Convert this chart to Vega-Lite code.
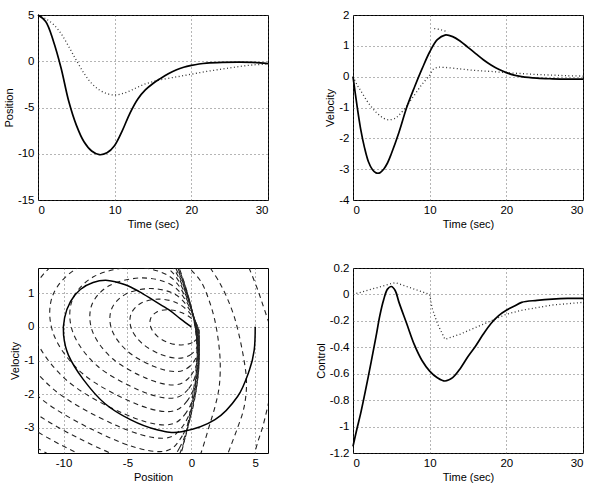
{
  "$schema": "https://vega.github.io/schema/vega-lite/v6.json",
  "padding": {"left": 2, "top": 8, "right": 0, "bottom": 0},
  "config": {
    "font": "Liberation Sans",
    "view": {"stroke": "#000", "strokeWidth": 1},
    "axis": {"labelFont": "Liberation Sans", "labelFontSize": 11.5, "labelColor": "#000", "titleFont": "Liberation Sans", "titleFontSize": 11, "titleFontWeight": "normal", "titleColor": "#000", "grid": true, "gridColor": "#444", "gridDash": [1, 3], "gridWidth": 0.8, "domain": false, "ticks": false, "labelPadding": 4, "titlePadding": 3},
    "locale": {"number": {"decimal": ".", "thousands": ",", "grouping": [3], "currency": ["$", ""], "minus": "-"}}
  },
  "datasets": {
    "pos": [
      {"t":0,"v":5,"s":"a"},{"t":1,"v":4.3,"s":"a"},{"t":2,"v":2.2,"s":"a"},{"t":3,"v":-0.7,"s":"a"},{"t":4,"v":-4.3,"s":"a"},{"t":5,"v":-6.9,"s":"a"},{"t":6,"v":-8.7,"s":"a"},{"t":7,"v":-9.7,"s":"a"},{"t":8,"v":-10.1,"s":"a"},{"t":9,"v":-9.9,"s":"a"},{"t":10,"v":-9.1,"s":"a"},{"t":11,"v":-7.5,"s":"a"},{"t":12,"v":-5.6,"s":"a"},{"t":13,"v":-4.1,"s":"a"},{"t":14,"v":-3.1,"s":"a"},{"t":15,"v":-2.4,"s":"a"},{"t":16,"v":-1.85,"s":"a"},{"t":17,"v":-1.35,"s":"a"},{"t":18,"v":-0.95,"s":"a"},{"t":19,"v":-0.65,"s":"a"},{"t":20,"v":-0.45,"s":"a"},{"t":21,"v":-0.3,"s":"a"},{"t":22,"v":-0.2,"s":"a"},{"t":24,"v":-0.12,"s":"a"},{"t":26,"v":-0.1,"s":"a"},{"t":28,"v":-0.12,"s":"a"},{"t":30,"v":-0.25,"s":"a"},
      {"t":0,"v":5,"s":"d"},{"t":1,"v":4.6,"s":"d"},{"t":2,"v":4.0,"s":"d"},{"t":3,"v":3.0,"s":"d"},{"t":4,"v":1.6,"s":"d"},{"t":5,"v":0.1,"s":"d"},{"t":6,"v":-1.3,"s":"d"},{"t":7,"v":-2.4,"s":"d"},{"t":8,"v":-3.1,"s":"d"},{"t":9,"v":-3.5,"s":"d"},{"t":10,"v":-3.65,"s":"d"},{"t":11,"v":-3.5,"s":"d"},{"t":12,"v":-3.2,"s":"d"},{"t":13,"v":-2.8,"s":"d"},{"t":14,"v":-2.45,"s":"d"},{"t":15,"v":-2.2,"s":"d"},{"t":16,"v":-2.0,"s":"d"},{"t":18,"v":-1.7,"s":"d"},{"t":20,"v":-1.4,"s":"d"},{"t":22,"v":-1.1,"s":"d"},{"t":24,"v":-0.85,"s":"d"},{"t":26,"v":-0.6,"s":"d"},{"t":28,"v":-0.4,"s":"d"},{"t":30,"v":-0.3,"s":"d"}
    ],
    "vel": [
      {"t":0,"v":0,"s":"a"},{"t":0.5,"v":-0.9,"s":"a"},{"t":1,"v":-1.7,"s":"a"},{"t":1.5,"v":-2.3,"s":"a"},{"t":2,"v":-2.75,"s":"a"},{"t":2.5,"v":-3.0,"s":"a"},{"t":3,"v":-3.12,"s":"a"},{"t":3.5,"v":-3.12,"s":"a"},{"t":4,"v":-3.0,"s":"a"},{"t":4.5,"v":-2.8,"s":"a"},{"t":5,"v":-2.5,"s":"a"},{"t":6,"v":-1.8,"s":"a"},{"t":7,"v":-1.0,"s":"a"},{"t":8,"v":-0.35,"s":"a"},{"t":9,"v":0.25,"s":"a"},{"t":10,"v":0.8,"s":"a"},{"t":11,"v":1.2,"s":"a"},{"t":12,"v":1.35,"s":"a"},{"t":13,"v":1.3,"s":"a"},{"t":14,"v":1.15,"s":"a"},{"t":15,"v":0.95,"s":"a"},{"t":16,"v":0.75,"s":"a"},{"t":17,"v":0.55,"s":"a"},{"t":18,"v":0.38,"s":"a"},{"t":19,"v":0.24,"s":"a"},{"t":20,"v":0.13,"s":"a"},{"t":21,"v":0.05,"s":"a"},{"t":22,"v":0.0,"s":"a"},{"t":24,"v":-0.05,"s":"a"},{"t":26,"v":-0.07,"s":"a"},{"t":28,"v":-0.08,"s":"a"},{"t":30,"v":-0.08,"s":"a"},
      {"t":0,"v":0,"s":"d"},{"t":0.5,"v":-0.25,"s":"d"},{"t":1,"v":-0.45,"s":"d"},{"t":2,"v":-0.85,"s":"d"},{"t":3,"v":-1.15,"s":"d"},{"t":4,"v":-1.35,"s":"d"},{"t":4.7,"v":-1.4,"s":"d"},{"t":5.5,"v":-1.35,"s":"d"},{"t":6,"v":-1.25,"s":"d"},{"t":7,"v":-0.95,"s":"d"},{"t":8,"v":-0.6,"s":"d"},{"t":9,"v":-0.25,"s":"d"},{"t":10,"v":0.05,"s":"d"},{"t":10.5,"v":0.25,"s":"d"},{"t":11,"v":0.3,"s":"d"},{"t":12,"v":0.3,"s":"d"},{"t":14,"v":0.25,"s":"d"},{"t":16,"v":0.2,"s":"d"},{"t":18,"v":0.17,"s":"d"},{"t":20,"v":0.13,"s":"d"},{"t":22,"v":0.1,"s":"d"},{"t":24,"v":0.07,"s":"d"},{"t":26,"v":0.05,"s":"d"},{"t":28,"v":0.03,"s":"d"},{"t":30,"v":0.02,"s":"d"},
      {"t":10.6,"v":1.56,"s":"d2"},{"t":11.5,"v":1.52,"s":"d2"},{"t":12.4,"v":1.45,"s":"d2"}
    ],
    "ctl": [
      {"t":0,"v":-1.15,"s":"a"},{"t":0.5,"v":-1.02,"s":"a"},{"t":1,"v":-0.9,"s":"a"},{"t":2,"v":-0.62,"s":"a"},{"t":3,"v":-0.32,"s":"a"},{"t":3.5,"v":-0.16,"s":"a"},{"t":4,"v":-0.04,"s":"a"},{"t":4.5,"v":0.04,"s":"a"},{"t":5,"v":0.06,"s":"a"},{"t":5.5,"v":0.03,"s":"a"},{"t":6,"v":-0.06,"s":"a"},{"t":7,"v":-0.22,"s":"a"},{"t":8,"v":-0.38,"s":"a"},{"t":9,"v":-0.5,"s":"a"},{"t":10,"v":-0.58,"s":"a"},{"t":11,"v":-0.63,"s":"a"},{"t":12,"v":-0.655,"s":"a"},{"t":13,"v":-0.63,"s":"a"},{"t":14,"v":-0.56,"s":"a"},{"t":15,"v":-0.47,"s":"a"},{"t":16,"v":-0.39,"s":"a"},{"t":17,"v":-0.3,"s":"a"},{"t":18,"v":-0.22,"s":"a"},{"t":19,"v":-0.16,"s":"a"},{"t":20,"v":-0.12,"s":"a"},{"t":21,"v":-0.09,"s":"a"},{"t":22,"v":-0.06,"s":"a"},{"t":24,"v":-0.045,"s":"a"},{"t":26,"v":-0.035,"s":"a"},{"t":28,"v":-0.03,"s":"a"},{"t":30,"v":-0.03,"s":"a"},
      {"t":0,"v":0,"s":"d"},{"t":5.5,"v":0.09,"s":"d"},{"t":10,"v":0,"s":"d"},{"t":10.3,"v":-0.1,"s":"d"},{"t":11,"v":-0.22,"s":"d"},{"t":12,"v":-0.34,"s":"d"},{"t":14,"v":-0.3,"s":"d"},{"t":16,"v":-0.25,"s":"d"},{"t":18,"v":-0.2,"s":"d"},{"t":20,"v":-0.15,"s":"d"},{"t":22,"v":-0.12,"s":"d"},{"t":24,"v":-0.1,"s":"d"},{"t":26,"v":-0.08,"s":"d"},{"t":28,"v":-0.07,"s":"d"},{"t":30,"v":-0.06,"s":"d"}
    ],
    "traj": [
      {"i":0,"x":5.0,"y":0},{"i":1,"x":4.92,"y":-0.69},{"i":2,"x":4.54,"y":-1.29},{"i":3,"x":3.62,"y":-2.07},{"i":4,"x":1.85,"y":-2.76},{"i":5,"x":-0.77,"y":-3.12},{"i":6,"x":-2.69,"y":-3.06},{"i":7,"x":-4.77,"y":-2.76},{"i":8,"x":-6.77,"y":-2.28},{"i":9,"x":-8.46,"y":-1.56},{"i":10,"x":-9.62,"y":-0.84},{"i":11,"x":-10.0,"y":-0.24},{"i":12,"x":-9.92,"y":0.27},{"i":13,"x":-9.46,"y":0.75},{"i":14,"x":-8.69,"y":1.11},{"i":15,"x":-7.69,"y":1.32},{"i":16,"x":-6.54,"y":1.38},{"i":17,"x":-5.23,"y":1.26},{"i":18,"x":-4.08,"y":1.05},{"i":19,"x":-2.92,"y":0.78},{"i":20,"x":-1.77,"y":0.51},{"i":21,"x":-0.85,"y":0.24},{"i":22,"x":0,"y":0}
    ],
    "arcs": [
      {"k":"R1","i":0,"x":4.52,"y":1.75},{"k":"R1","i":1,"x":5.15,"y":1.15},{"k":"R1","i":2,"x":5.61,"y":0.64},{"k":"R1","i":3,"x":6.08,"y":0.11},
      {"k":"R2","i":0,"x":1.48,"y":1.75},{"k":"R2","i":1,"x":2.19,"y":1.33},{"k":"R2","i":2,"x":2.81,"y":0.85},{"k":"R2","i":3,"x":3.35,"y":0.31},{"k":"R2","i":4,"x":3.74,"y":-0.25},{"k":"R2","i":5,"x":4.06,"y":-0.85},{"k":"R2","i":6,"x":4.29,"y":-1.45},{"k":"R2","i":7,"x":4.29,"y":-1.96},{"k":"R2","i":8,"x":4.06,"y":-2.5},{"k":"R2","i":9,"x":3.59,"y":-3.03},{"k":"R2","i":10,"x":3.12,"y":-3.51},{"k":"R2","i":11,"x":2.81,"y":-3.81},
      {"k":"R3","i":0,"x":0.0,"y":1.69},{"k":"R3","i":1,"x":0.78,"y":1.33},{"k":"R3","i":2,"x":1.33,"y":0.85},{"k":"R3","i":3,"x":1.8,"y":0.26},{"k":"R3","i":4,"x":2.11,"y":-0.4},{"k":"R3","i":5,"x":2.26,"y":-1.06},{"k":"R3","i":6,"x":2.19,"y":-1.75},{"k":"R3","i":7,"x":1.87,"y":-2.35},{"k":"R3","i":8,"x":1.41,"y":-2.94},{"k":"R3","i":9,"x":0.94,"y":-3.54},{"k":"R3","i":10,"x":0.7,"y":-3.81},
      {"k":"R0","i":0,"x":6.08,"y":-2.2},{"k":"R0","i":1,"x":5.61,"y":-2.94},{"k":"R0","i":2,"x":5.23,"y":-3.39},{"k":"R0","i":3,"x":4.91,"y":-3.81}
    ],
    "loops": [
      {"k":1,"i":0,"x":0.573,"y":-0.27},{"k":1,"i":1,"x":0.085,"y":-0.464},{"k":1,"i":2,"x":-0.79,"y":-0.537},{"k":1,"i":3,"x":-1.794,"y":-0.471},{"k":1,"i":4,"x":-2.652,"y":-0.282},{"k":1,"i":5,"x":-3.164,"y":-0.021},{"k":1,"i":6,"x":-3.192,"y":0.242},{"k":1,"i":7,"x":-2.73,"y":0.436},{"k":1,"i":8,"x":-1.901,"y":0.509},{"k":1,"i":9,"x":-0.903,"y":0.443},{"k":1,"i":10,"x":0.002,"y":0.254},{"k":1,"i":11,"x":0.542,"y":-0.007},
      {"k":2,"i":0,"x":0.567,"y":-0.483},{"k":2,"i":1,"x":0.007,"y":-0.809},{"k":2,"i":2,"x":-0.997,"y":-0.933},{"k":2,"i":3,"x":-2.38,"y":-0.821},{"k":2,"i":4,"x":-3.82,"y":-0.503},{"k":2,"i":5,"x":-4.68,"y":-0.066},{"k":2,"i":6,"x":-4.728,"y":0.375},{"k":2,"i":7,"x":-3.952,"y":0.701},{"k":2,"i":8,"x":-2.56,"y":0.825},{"k":2,"i":9,"x":-1.127,"y":0.713},{"k":2,"i":10,"x":-0.088,"y":0.395},{"k":2,"i":11,"x":0.533,"y":-0.042},
      {"k":3,"i":0,"x":0.561,"y":-0.698},{"k":3,"i":1,"x":-0.071,"y":-1.156},{"k":3,"i":2,"x":-1.205,"y":-1.33},{"k":3,"i":3,"x":-2.966,"y":-1.172},{"k":3,"i":4,"x":-4.99,"y":-0.726},{"k":3,"i":5,"x":-6.198,"y":-0.112},{"k":3,"i":6,"x":-6.265,"y":0.508},{"k":3,"i":7,"x":-5.175,"y":0.966},{"k":3,"i":8,"x":-3.219,"y":1.14},{"k":3,"i":9,"x":-1.351,"y":0.982},{"k":3,"i":10,"x":-0.179,"y":0.536},{"k":3,"i":11,"x":0.522,"y":-0.078},
      {"k":4,"i":0,"x":0.548,"y":-0.913},{"k":4,"i":1,"x":-0.154,"y":-1.502},{"k":4,"i":2,"x":-1.414,"y":-1.727},{"k":4,"i":3,"x":-3.552,"y":-1.524},{"k":4,"i":4,"x":-6.158,"y":-0.949},{"k":4,"i":5,"x":-7.715,"y":-0.157},{"k":4,"i":6,"x":-7.801,"y":0.641},{"k":4,"i":7,"x":-6.397,"y":1.23},{"k":4,"i":8,"x":-3.877,"y":1.455},{"k":4,"i":9,"x":-1.576,"y":1.252},{"k":4,"i":10,"x":-0.273,"y":0.677},{"k":4,"i":11,"x":0.505,"y":-0.115},
      {"k":5,"i":0,"x":0.542,"y":-1.126},{"k":5,"i":1,"x":-0.233,"y":-1.848},{"k":5,"i":2,"x":-1.622,"y":-2.122},{"k":5,"i":3,"x":-4.139,"y":-1.874},{"k":5,"i":4,"x":-7.328,"y":-1.171},{"k":5,"i":5,"x":-9.232,"y":-0.202},{"k":5,"i":6,"x":-9.338,"y":0.774},{"k":5,"i":7,"x":-7.62,"y":1.496},{"k":5,"i":8,"x":-4.537,"y":1.77},{"k":5,"i":9,"x":-1.801,"y":1.522},{"k":5,"i":10,"x":-0.364,"y":0.819},{"k":5,"i":11,"x":0.494,"y":-0.15},
      {"k":6,"i":0,"x":0.535,"y":-1.341},{"k":6,"i":1,"x":-0.311,"y":-2.195},{"k":6,"i":2,"x":-1.829,"y":-2.519},{"k":6,"i":3,"x":-4.725,"y":-2.226},{"k":6,"i":4,"x":-8.497,"y":-1.394},{"k":6,"i":5,"x":-10.75,"y":-0.248},{"k":6,"i":6,"x":-10.875,"y":0.907},{"k":6,"i":7,"x":-8.843,"y":1.761},{"k":6,"i":8,"x":-5.196,"y":2.085},{"k":6,"i":9,"x":-2.025,"y":1.792},{"k":6,"i":10,"x":-0.455,"y":0.96},{"k":6,"i":11,"x":0.483,"y":-0.186},
      {"k":7,"i":0,"x":0.5,"y":-1.556},{"k":7,"i":1,"x":-0.388,"y":-2.541},{"k":7,"i":2,"x":-2.036,"y":-2.916},{"k":7,"i":3,"x":-5.311,"y":-2.577},{"k":7,"i":4,"x":-9.666,"y":-1.617},{"k":7,"i":5,"x":-12.267,"y":-0.294},{"k":7,"i":6,"x":-12.411,"y":1.04},{"k":7,"i":7,"x":-10.065,"y":2.025},{"k":7,"i":8,"x":-5.854,"y":2.4},{"k":7,"i":9,"x":-2.249,"y":2.061},{"k":7,"i":10,"x":-0.544,"y":1.101},{"k":7,"i":11,"x":0.473,"y":-0.222},
      {"k":8,"i":0,"x":0.43,"y":-1.77},{"k":8,"i":1,"x":-0.55,"y":-2.887},{"k":8,"i":2,"x":-2.246,"y":-3.312},{"k":8,"i":3,"x":-5.898,"y":-2.927},{"k":8,"i":4,"x":-10.835,"y":-1.839},{"k":8,"i":5,"x":-13.784,"y":-0.338},{"k":8,"i":6,"x":-13.949,"y":1.174},{"k":8,"i":7,"x":-11.287,"y":2.291},{"k":8,"i":8,"x":-6.514,"y":2.716},{"k":8,"i":9,"x":-2.475,"y":2.331},{"k":8,"i":10,"x":-0.64,"y":1.243},{"k":8,"i":11,"x":0.455,"y":-0.258},
      {"k":9,"i":0,"x":0.33,"y":-1.984},{"k":9,"i":1,"x":-0.7,"y":-3.234},{"k":9,"i":2,"x":-2.453,"y":-3.709},{"k":9,"i":3,"x":-6.483,"y":-3.279},{"k":9,"i":4,"x":-12.004,"y":-2.062},{"k":9,"i":5,"x":-15.301,"y":-0.384},{"k":9,"i":6,"x":-15.485,"y":1.306},{"k":9,"i":7,"x":-12.509,"y":2.556},{"k":9,"i":8,"x":-7.172,"y":3.031},{"k":9,"i":9,"x":-2.698,"y":2.601},{"k":9,"i":10,"x":-0.73,"y":1.384},{"k":9,"i":11,"x":0.446,"y":-0.294},
      {"k":10,"i":0,"x":0.18,"y":-2.198},{"k":10,"i":1,"x":-0.9,"y":-3.579},{"k":10,"i":2,"x":-2.66,"y":-4.105},{"k":10,"i":3,"x":-7.07,"y":-3.629},{"k":10,"i":4,"x":-13.173,"y":-2.284},{"k":10,"i":5,"x":-16.819,"y":-0.429},{"k":10,"i":6,"x":-17.022,"y":1.44},{"k":10,"i":7,"x":-13.732,"y":2.821},{"k":10,"i":8,"x":-7.832,"y":3.347},{"k":10,"i":9,"x":-2.923,"y":2.871},{"k":10,"i":10,"x":-0.821,"y":1.526},{"k":10,"i":11,"x":0.435,"y":-0.329},
      {"k":11,"i":0,"x":0.02,"y":-2.413},{"k":11,"i":1,"x":-1.1,"y":-3.926},{"k":11,"i":2,"x":-2.867,"y":-4.501},{"k":11,"i":3,"x":-7.655,"y":-3.981},{"k":11,"i":4,"x":-14.342,"y":-2.507},{"k":11,"i":5,"x":-18.336,"y":-0.475},{"k":11,"i":6,"x":-18.558,"y":1.573},{"k":11,"i":7,"x":-14.954,"y":3.086},{"k":11,"i":8,"x":-8.49,"y":3.661},{"k":11,"i":9,"x":-3.146,"y":3.141},{"k":11,"i":10,"x":-0.91,"y":1.667},{"k":11,"i":11,"x":0.425,"y":-0.365},
      {"k":12,"i":0,"x":-0.15,"y":-2.628},{"k":12,"i":1,"x":-1.3,"y":-4.273},{"k":12,"i":2,"x":-3.077,"y":-4.898},{"k":12,"i":3,"x":-8.242,"y":-4.332},{"k":12,"i":4,"x":-15.511,"y":-2.729},{"k":12,"i":5,"x":-19.853,"y":-0.52},{"k":12,"i":6,"x":-20.095,"y":1.706},{"k":12,"i":7,"x":-16.177,"y":3.351},{"k":12,"i":8,"x":-9.149,"y":3.976},{"k":12,"i":9,"x":-3.372,"y":3.41},{"k":12,"i":10,"x":-1.006,"y":1.807},{"k":12,"i":11,"x":0.407,"y":-0.402}
    ]
  },
  "columns": 2,
  "bounds": "flush",
  "spacing": {"row": 68, "column": 85},
  "concat": [
    {
      "width": 230, "height": 185,
      "data": {"name": "pos"},
      "encoding": {
        "x": {"field": "t", "type": "quantitative", "scale": {"domain": [0, 30], "nice": false}, "axis": {"values": [0, 10, 20, 30], "title": "Time (sec)"}},
        "y": {"field": "v", "type": "quantitative", "scale": {"domain": [-15, 5], "nice": false, "zero": false}, "axis": {"values": [-15, -10, -5, 0, 5], "title": "Position", "format": "~g"}}
      },
      "layer": [
        {"transform": [{"filter": "datum.s != 'a'"}], "mark": {"type": "line", "color": "#333", "strokeWidth": 1.3, "strokeDash": [1, 2.5], "interpolate": "catmull-rom"}, "encoding": {"detail": {"field": "s"}}},
        {"transform": [{"filter": "datum.s == 'a'"}], "mark": {"type": "line", "color": "#000", "strokeWidth": 1.7, "interpolate": "catmull-rom"}}
      ]
    },
    {
      "width": 230, "height": 185,
      "data": {"name": "vel"},
      "encoding": {
        "x": {"field": "t", "type": "quantitative", "scale": {"domain": [0, 30], "nice": false}, "axis": {"values": [0, 10, 20, 30], "title": "Time (sec)"}},
        "y": {"field": "v", "type": "quantitative", "scale": {"domain": [-4, 2], "nice": false, "zero": false}, "axis": {"values": [-4, -3, -2, -1, 0, 1, 2], "title": "Velocity", "format": "~g"}}
      },
      "layer": [
        {"transform": [{"filter": "datum.s != 'a'"}], "mark": {"type": "line", "color": "#333", "strokeWidth": 1.3, "strokeDash": [1, 2.5], "interpolate": "catmull-rom"}, "encoding": {"detail": {"field": "s"}}},
        {"transform": [{"filter": "datum.s == 'a'"}], "mark": {"type": "line", "color": "#000", "strokeWidth": 1.7, "interpolate": "catmull-rom"}}
      ]
    },
    {
      "width": 230, "height": 185,
      "encoding": {
        "x": {"field": "x", "type": "quantitative", "scale": {"domain": [-12, 6], "nice": false, "zero": false}, "axis": {"values": [-10, -5, 0, 5], "title": "Position"}},
        "y": {"field": "y", "type": "quantitative", "scale": {"domain": [-3.75, 1.75], "nice": false, "zero": false}, "axis": {"values": [-3, -2, -1, 0, 1], "title": "Velocity", "format": "~g"}}
      },
      "layer": [
        {"data": {"name": "loops"}, "mark": {"type": "line", "color": "#222", "strokeWidth": 1.1, "strokeDash": [5, 4], "interpolate": "cardinal-closed", "clip": true}, "encoding": {"detail": {"field": "k"}, "order": {"field": "i", "type": "quantitative"}}},
        {"data": {"name": "arcs"}, "mark": {"type": "line", "color": "#222", "strokeWidth": 1.1, "strokeDash": [5, 4], "interpolate": "cardinal", "clip": true}, "encoding": {"detail": {"field": "k"}, "order": {"field": "i", "type": "quantitative"}}},
        {"data": {"name": "traj"}, "mark": {"type": "line", "color": "#000", "strokeWidth": 1.5, "interpolate": "cardinal", "clip": true}, "encoding": {"order": {"field": "i", "type": "quantitative"}}}
      ]
    },
    {
      "width": 230, "height": 185,
      "data": {"name": "ctl"},
      "encoding": {
        "x": {"field": "t", "type": "quantitative", "scale": {"domain": [0, 30], "nice": false}, "axis": {"values": [0, 10, 20, 30], "title": "Time (sec)"}},
        "y": {"field": "v", "type": "quantitative", "scale": {"domain": [-1.2, 0.2], "nice": false, "zero": false}, "axis": {"values": [-1.2, -1, -0.8, -0.6, -0.4, -0.2, 0, 0.2], "title": "Control", "format": "~g"}}
      },
      "layer": [
        {"transform": [{"filter": "datum.s != 'a'"}], "mark": {"type": "line", "color": "#333", "strokeWidth": 1.3, "strokeDash": [1, 2.5], "interpolate": "linear"}, "encoding": {"detail": {"field": "s"}}},
        {"transform": [{"filter": "datum.s == 'a'"}], "mark": {"type": "line", "color": "#000", "strokeWidth": 1.7, "interpolate": "catmull-rom"}}
      ]
    }
  ]
}
